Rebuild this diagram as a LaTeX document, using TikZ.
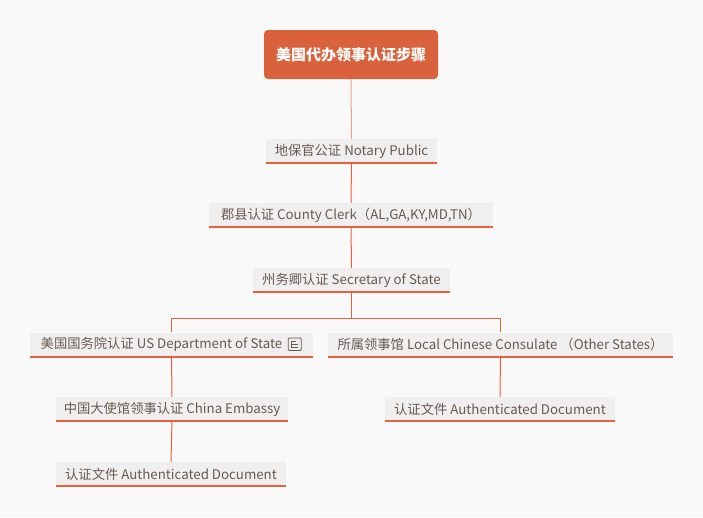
\documentclass[tikz,border=0pt]{standalone}
\usepackage{fontspec}
\setmainfont{Noto Sans CJK SC}
\definecolor{bg}{HTML}{F9F9F9}
\definecolor{rootfill}{HTML}{D9623C}
\definecolor{boxfill}{HTML}{EFEFEF}
\definecolor{uline}{HTML}{E8603C}
\definecolor{txt}{HTML}{6B5A4E}
\definecolor{lightline}{HTML}{F2A28C}
\begin{document}
\begin{tikzpicture}[x=1pt,y=-1pt,
  rootbox/.style={fill=rootfill,rounded corners=4pt,minimum width=174pt,minimum height=49pt,
    text=white,font=\fontsize{15}{17}\selectfont\bfseries,inner sep=0pt},
  topic/.style={fill=boxfill,minimum height=24pt,inner sep=0pt,text=txt,
    font=\fontsize{13.3}{15}\selectfont},
  conn/.style={uline,line width=1pt},
  underline/.style={uline,line width=2pt},
]
\useasboundingbox[fill=bg] (0,0) rectangle (703,517);
\node[rootbox] (root) at (351,54.5) {美国代办领事认证步骤};
\node[topic,minimum width=171pt] (notary) at (351.5,151) {地保官公证 Notary Public};
\node[topic,minimum width=284pt] (county) at (351,215) {郡县认证 County Clerk（AL,GA,KY,MD,TN）};
\node[topic,minimum width=197pt] (sec) at (351.5,280) {州务卿认证 Secretary of State};
\node[topic,minimum width=283pt] (usdos) at (171.5,344.5) {美国国务院认证 US Department of State\kern20pt};
\node[topic,minimum width=345pt] (local) at (500.5,344.5) {所属领事馆 Local Chinese Consulate （Other States）};
\node[topic,minimum width=232pt] (emb) at (172,409) {中国大使馆领事认证 China Embassy};
\node[topic,minimum width=230pt] (authL) at (171,474) {认证文件 Authenticated Document};
\node[topic,minimum width=230pt] (authR) at (500,409) {认证文件 Authenticated Document};
\foreach \n in {notary,county,sec,usdos,local,emb,authL,authR}
  \draw[underline] (\n.south west) -- (\n.south east);
% note icon
\begin{scope}[shift={(usdos.east)}]
  \draw[txt,line width=0.9pt,rounded corners=1pt] (-25,-6.5) rectangle (-12,6);
  \draw[txt,line width=0.9pt] (-22,-3.5)--(-22,3) (-22,-3.5)--(-17,-3.5) (-22,0)--(-15,0) (-22,3)--(-15,3);
\end{scope}
% connectors
\draw[lightline,line width=1pt] (root.south) -- (notary.north);
\draw[conn] ([yshift=1pt]notary.south) -- (county.north);
\draw[conn] ([yshift=1pt]county.south) -- (sec.north);
\coordinate (bj) at (351.5,318);
\draw[conn] ([yshift=1pt]sec.south) -- (bj);
\draw[conn] (bj) -| (usdos.north);
\draw[conn] (bj) -| (local.north);
\draw[conn] ([yshift=1pt]usdos.south) -- (emb.north);
\draw[conn] ([yshift=1pt]emb.south) -- (authL.north);
\draw[conn] ([yshift=1pt]local.south) -- (authR.north);
\end{tikzpicture}
\end{document}
